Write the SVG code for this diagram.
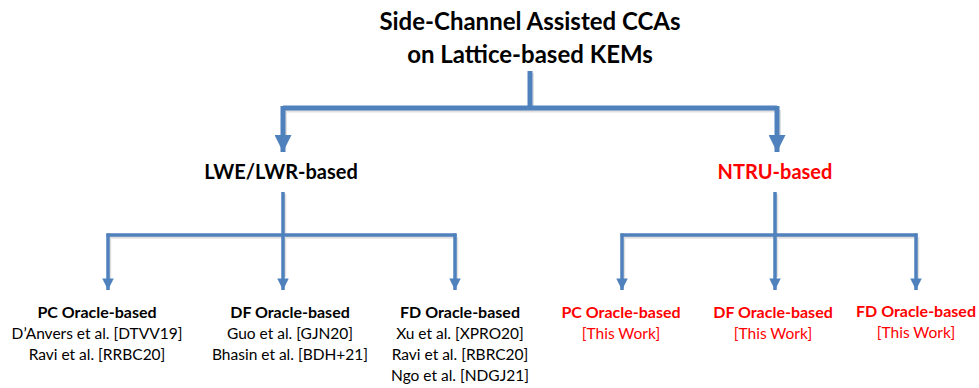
<svg xmlns="http://www.w3.org/2000/svg" width="979" height="388" viewBox="0 0 979 388">
<defs>
<style>
.t{font-family:Lato,"Open Sans","Liberation Sans",sans-serif;text-anchor:middle}
.b{font-weight:bold}
.blk{fill:#000}
.red{fill:#ff0000}
.big{stroke:#4f81bd;stroke-width:5;fill:none}
.sm{stroke:#4f81bd;stroke-width:3.5;fill:none}
.sh{stroke:#000;stroke-opacity:0.12;fill:none}
.lab{font-size:16px}
.ref{font-size:15.5px}
</style>
<marker id="ah1" viewBox="0 0 10 10" refX="10" refY="5" markerWidth="3.4" markerHeight="3.4" orient="auto" markerUnits="strokeWidth">
<path d="M0,0 L10,5 L0,10 z" fill="#4f81bd"/>
</marker>
<marker id="ah2" viewBox="0 0 10 10" refX="10" refY="5" markerWidth="3.3" markerHeight="3.3" orient="auto" markerUnits="strokeWidth">
<path d="M0,0 L10,5 L0,10 z" fill="#4f81bd"/>
</marker>
</defs>
<rect width="979" height="388" fill="#fff"/>
<g id="connectors">
<g transform="translate(1.5,2)">
<path class="sh" stroke-width="5" d="M530,71 V108 M283,108 H777 M283,108 V136 M777,108 V136"/>
<path class="sh" stroke-width="3.5" d="M283,192 V275 M108,235 H455 M108,235 V278 M455,235 V278 M775,192 V275 M622,235 H916 M622,235 V278 M916,235 V278"/>
</g>
<path class="big" d="M530,71 V108"/>
<path class="big" d="M283,108 H777"/>
<path class="big" d="M283,106 V152" marker-end="url(#ah1)"/>
<path class="big" d="M777,106 V152" marker-end="url(#ah1)"/>
<path class="sm" d="M283,192 V290" marker-end="url(#ah2)"/>
<path class="sm" d="M106.5,235 H456.5"/>
<path class="sm" d="M108,233.5 V290" marker-end="url(#ah2)"/>
<path class="sm" d="M455,233.5 V290" marker-end="url(#ah2)"/>
<path class="sm" d="M775,192 V290" marker-end="url(#ah2)"/>
<path class="sm" d="M620.5,235 H917.5"/>
<path class="sm" d="M622,233.5 V290" marker-end="url(#ah2)"/>
<path class="sm" d="M916,233.5 V290" marker-end="url(#ah2)"/>
</g>
<g id="root">
<text class="t b blk" x="530" y="30" font-size="24">Side-Channel Assisted CCAs</text>
<text class="t b blk" x="530" y="63" font-size="24">on Lattice-based KEMs</text>
</g>
<g id="lwe">
<text class="t b blk" x="281" y="179" font-size="20">LWE/LWR-based</text>
</g>
<g id="ntru">
<text class="t b red" x="775" y="179" font-size="20">NTRU-based</text>
</g>
<g id="lwe-pc">
<text class="t b blk lab" x="97" y="318">PC Oracle-based</text>
<text class="t blk ref" x="97" y="339">D’Anvers et al. [DTVV19]</text>
<text class="t blk ref" x="97" y="360">Ravi et al. [RRBC20]</text>
</g>
<g id="lwe-df">
<text class="t b blk lab" x="290" y="318">DF Oracle-based</text>
<text class="t blk ref" x="290" y="339">Guo et al. [GJN20]</text>
<text class="t blk ref" x="290" y="360">Bhasin et al. [BDH+21]</text>
</g>
<g id="lwe-fd">
<text class="t b blk lab" x="460" y="318">FD Oracle-based</text>
<text class="t blk ref" x="460" y="339">Xu et al. [XPRO20]</text>
<text class="t blk ref" x="460" y="360">Ravi et al. [RBRC20]</text>
<text class="t blk ref" x="460" y="381">Ngo et al. [NDGJ21]</text>
</g>
<g id="ntru-pc">
<text class="t b red lab" x="621" y="318">PC Oracle-based</text>
<text class="t red ref" x="621" y="339">[This Work]</text>
</g>
<g id="ntru-df">
<text class="t b red lab" x="773" y="318">DF Oracle-based</text>
<text class="t red ref" x="773" y="339">[This Work]</text>
</g>
<g id="ntru-fd">
<text class="t b red lab" x="916" y="317">FD Oracle-based</text>
<text class="t red ref" x="916" y="338">[This Work]</text>
</g>
</svg>
